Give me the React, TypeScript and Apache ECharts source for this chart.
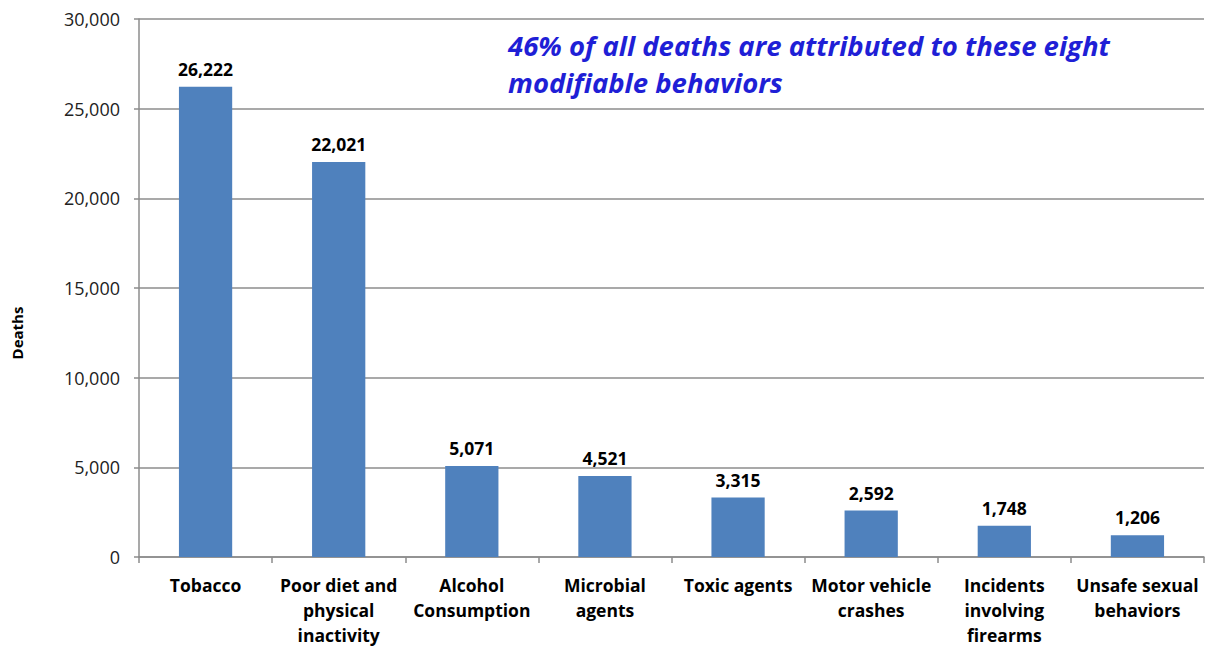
import React, { useEffect, useRef } from "react";
import * as echarts from "echarts";

const categories = [
  "Tobacco",
  "Poor diet and\nphysical\ninactivity",
  "Alcohol\nConsumption",
  "Microbial\nagents",
  "Toxic agents",
  "Motor vehicle\ncrashes",
  "Incidents\ninvolving\nfirearms",
  "Unsafe sexual\nbehaviors",
];
const deaths = [26222, 22021, 5071, 4521, 3315, 2592, 1748, 1206];
const yTicks = { min: 0, max: 30000, interval: 5000 };
const titleLines = "46% of all deaths are attributed to these eight\nmodifiable behaviors";
const yAxisName = "Deaths";

const FONT = "'Open Sans', 'Noto Sans', sans-serif";

export default function App() {
  const ref = useRef<HTMLDivElement>(null);
  useEffect(() => {
    if (!ref.current) return;
    const chart = echarts.init(ref.current, null, { renderer: "svg" });
    chart.setOption({
      animation: false,
      backgroundColor: "#ffffff",
      grid: { left: 139, right: 3, top: 19, bottom: 90, containLabel: false },
      graphic: [
        {
          type: "text",
          left: 508,
          top: 27,
          style: {
            text: titleLines,
            font: `italic bold 27.5px ${FONT}`,
            fill: "#1f1fd6",
            lineHeight: 37,
          },
        },
        {
          type: "text",
          x: 17,
          y: 333,
          rotation: Math.PI / 2,
          style: {
            text: yAxisName,
            font: `bold 15px ${FONT}`,
            fill: "#000",
            textAlign: "center",
            textVerticalAlign: "middle",
          },
        },
      ],
      xAxis: {
        type: "category",
        data: categories,
        axisLine: { lineStyle: { color: "#8c8c8c", width: 1.5 } },
        axisTick: { show: true, length: 6, lineStyle: { color: "#8c8c8c", width: 1.5 } },
        axisLabel: {
          interval: 0,
          color: "#000",
          fontFamily: FONT,
          fontWeight: "bold",
          fontSize: 17.5,
          lineHeight: 25,
          margin: 15,
        },
      },
      yAxis: {
        type: "value",
        min: yTicks.min,
        max: yTicks.max,
        interval: yTicks.interval,
        axisLine: { show: true, lineStyle: { color: "#8c8c8c", width: 1.5 } },
        axisTick: { show: true, length: 5, lineStyle: { color: "#8c8c8c", width: 1.5 } },
        splitLine: { lineStyle: { color: "#8c8c8c", width: 1.5 } },
        axisLabel: {
          color: "#222",
          fontFamily: FONT,
          fontSize: 18,
          margin: 19,
          formatter: (v: number) => v.toLocaleString("en-US"),
        },
      },
      series: [
        {
          type: "bar",
          data: deaths,
          barWidth: "40%",
          itemStyle: { color: "#4f81bd" },
          label: {
            show: true,
            position: "top",
            distance: 9,
            color: "#000",
            fontFamily: FONT,
            fontWeight: "bold",
            fontSize: 17.5,
            formatter: (p: any) => Number(p.value).toLocaleString("en-US"),
          },
        },
      ],
    });
    return () => chart.dispose();
  }, []);
  return <div ref={ref} style={{ width: 1207, height: 647, position: "absolute", left: 0, top: 0 }} />;
}
